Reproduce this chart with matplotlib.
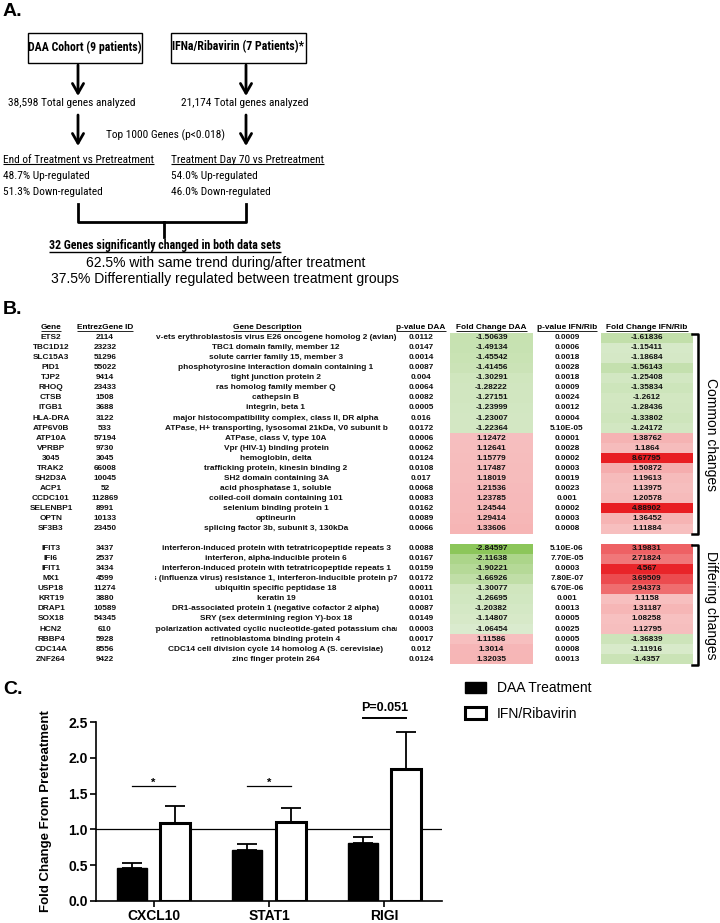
import os
import matplotlib
matplotlib.use("Agg")
import matplotlib.pyplot as plt
from matplotlib import font_manager
from matplotlib.font_manager import FontProperties
from matplotlib.patches import Rectangle
import numpy as np

# ---------------- data: panel B table ----------------
genes = ["ETS2", "TBC1D12", "SLC15A3", "PID1", "TJP2", "RHOQ", "CTSB", "ITGB1", "HLA-DRA", "ATP6V0B",
         "ATP10A", "VPRBP", "3045", "TRAK2", "SH2D3A", "ACP1", "CCDC101", "SELENBP1", "OPTN", "SF3B3",
         "IFIT3", "IFI6", "IFIT1", "MX1", "USP18", "KRT19", "DRAP1", "SOX18", "HCN2", "RBBP4", "CDC14A", "ZNF264"]
entrez_ids = ["2114", "23232", "51296", "55022", "9414", "23433", "1508", "3688", "3122", "533",
              "57194", "9730", "3045", "66008", "10045", "52", "112869", "8991", "10133", "23450",
              "3437", "2537", "3434", "4599", "11274", "3880", "10589", "54345", "610", "5928", "8556", "9422"]
descriptions = [
    "v-ets erythroblastosis virus E26 oncogene homolog 2 (avian)",
    "TBC1 domain family, member 12",
    "solute carrier family 15, member 3",
    "phosphotyrosine interaction domain containing 1",
    "tight junction protein 2",
    "ras homolog family member Q",
    "cathepsin B",
    "integrin, beta 1",
    "major histocompatibility complex, class II, DR alpha",
    "ATPase, H+ transporting, lysosomal 21kDa, V0 subunit b",
    "ATPase, class V, type 10A",
    "Vpr (HIV-1) binding protein",
    "hemoglobin, delta",
    "trafficking protein, kinesin binding 2",
    "SH2 domain containing 3A",
    "acid phosphatase 1, soluble",
    "coiled-coil domain containing 101",
    "selenium binding protein 1",
    "optineurin",
    "splicing factor 3b, subunit 3, 130kDa",
    "interferon-induced protein with tetratricopeptide repeats 3",
    "interferon, alpha-inducible protein 6",
    "interferon-induced protein with tetratricopeptide repeats 1",
    "myxovirus (influenza virus) resistance 1, interferon-inducible protein p78 (mouse)",
    "ubiquitin specific peptidase 18",
    "keratin 19",
    "DR1-associated protein 1 (negative cofactor 2 alpha)",
    "SRY (sex determining region Y)-box 18",
    "hyperpolarization activated cyclic nucleotide-gated potassium channel 2",
    "retinoblastoma binding protein 4",
    "CDC14 cell division cycle 14 homolog A (S. cerevisiae)",
    "zinc finger protein 264",
]
p_daa = ["0.0112", "0.0147", "0.0014", "0.0087", "0.004", "0.0064", "0.0082", "0.0005", "0.016", "0.0172",
         "0.0006", "0.0062", "0.0124", "0.0108", "0.017", "0.0068", "0.0083", "0.0162", "0.0089", "0.0066",
         "0.0088", "0.0167", "0.0159", "0.0172", "0.0011", "0.0101", "0.0087", "0.0149", "0.0003", "0.0017",
         "0.012", "0.0124"]
fc_daa = [-1.50639, -1.49134, -1.45542, -1.41456, -1.30291, -1.28222, -1.27151, -1.23999, -1.23007, -1.22364,
          1.12472, 1.12641, 1.15779, 1.17487, 1.18019, 1.21536, 1.23785, 1.24544, 1.29414, 1.33606,
          -2.84597, -2.11638, -1.90221, -1.66926, -1.30077, -1.26695, -1.20382, -1.14807, -1.06454,
          1.11586, 1.3014, 1.32035]
p_ifn = ["0.0009", "0.0006", "0.0018", "0.0028", "0.0018", "0.0009", "0.0024", "0.0012", "0.0004", "5.10E-05",
         "0.0001", "0.0028", "0.0002", "0.0003", "0.0019", "0.0023", "0.001", "0.0002", "0.0003", "0.0008",
         "5.10E-06", "7.70E-05", "0.0003", "7.80E-07", "6.70E-06", "0.001", "0.0013", "0.0005", "0.0025",
         "0.0005", "0.0008", "0.0013"]
fc_ifn = [-1.61836, -1.15411, -1.18684, -1.56143, -1.25408, -1.35834, -1.2612, -1.28436, -1.33802, -1.24172,
          1.38762, 1.1864, 8.67795, 1.50872, 1.19613, 1.13975, 1.20578, 4.88902, 1.36452, 1.11884,
          3.19831, 2.71824, 4.567, 3.69509, 2.94373, 1.1158, 1.31187, 1.08258, 1.12795,
          -1.36839, -1.11916, -1.4357]
group_sizes = [20, 12]
group_names = ["Common changes", "Differing changes"]
headers = ["Gene", "EntrezGene ID", "Gene Description", "p-value DAA",
           "Fold Change DAA", "p-value IFN/Rib", "Fold Change IFN/Rib"]

# ---------------- data: panel C bar chart ----------------
qpcr_genes = ["CXCL10", "STAT1", "RIGI"]
daa_mean = [0.46, 0.71, 0.805]
daa_err = [0.07, 0.09, 0.095]
ifn_mean = [1.09, 1.11, 1.84]
ifn_err = [0.24, 0.19, 0.52]
series_labels = ["DAA Treatment", "IFN/Ribavirin"]
sig_y = [1.60, 1.60, 2.556]
sig_labels = ["*", "*", "P=0.051"]
yticks = [0.0, 0.5, 1.0, 1.5, 2.0, 2.5]

# ---------------- fonts ----------------
installed = {f.name for f in font_manager.fontManager.ttflist}
SANS = "Liberation Sans" if "Liberation Sans" in installed else "DejaVu Sans"
plt.rcParams["font.family"] = [SANS, "DejaVu Sans"]


def _is_bold(f):
    w = f.weight
    if isinstance(w, str):
        return w in ("bold", "heavy", "black", "demibold", "semibold", "extra bold")
    return w >= 600


def find_condensed(bold):
    prefs = ["liberationsansnarrow", "arialnarrow", "robotocondensed", "notosanscondensed",
             "opensanscondensed", "dejavusanscondensed", "opensans_condensed", "notosans-condensed"]
    cands = []
    for f in font_manager.fontManager.ttflist:
        key = (f.name + os.path.basename(f.fname)).replace(" ", "").lower()
        cond = ("narrow" in key or "condensed" in key or
                str(f.stretch) in ("condensed", "semi-condensed"))
        if not cond:
            continue
        if any(b in key for b in ("mono", "serif", "extra", "ultra", "semicond", "italic", "oblique")):
            continue
        if str(f.style) != "normal":
            continue
        if _is_bold(f) != bold:
            continue
        w = f.weight if not isinstance(f.weight, str) else (700 if bold else 400)
        if bold and w not in (700, "bold"):
            continue
        if not bold and w not in (400, "normal", "regular", "book"):
            continue
        rank = next((i for i, p in enumerate(prefs) if p in key), len(prefs))
        cands.append((rank, f.fname))
    if cands:
        cands.sort()
        return FontProperties(fname=cands[0][1])
    return FontProperties(family=SANS, weight="bold" if bold else "normal")


NARROW_R = find_condensed(False)
NARROW_B = find_condensed(True)

fig = plt.figure(figsize=(7.2, 9.23), dpi=100)
ax = fig.add_axes([0, 0, 1, 1])
ax.set_xlim(0, 720)
ax.set_ylim(923, 0)
ax.axis("off")
R = fig.canvas.get_renderer()


def fit_size(s, fp, target):
    p = fp.copy()
    p.set_size(10)
    t = ax.text(0, 0, s, fontproperties=p)
    w = t.get_window_extent(R).width
    t.remove()
    return 10.0 * target / w


def ntext(x, y, s, fp, size, **kw):
    p = fp.copy()
    p.set_size(size)
    return ax.text(x, y, s, fontproperties=p, va="center", **kw)


def underline(t, lw=0.8, gap=-1.0):
    bb = t.get_window_extent(R)
    inv = ax.transData.inverted()
    (x0, yb), (x1, _) = inv.transform([[bb.x0, bb.y0], [bb.x1, bb.y1]])
    ax.plot([x0, x1], [yb + gap, yb + gap], color="k", lw=lw, solid_capstyle="butt")


# ================= Panel A =================
fs_n = min(fit_size("End of Treatment vs Pretreatment", NARROW_R, 150), 10.5)
fs_nb = min(fit_size("32 Genes significantly changed in both data sets", NARROW_B, 231), 10.5)

ax.text(3, 12, "A.", fontsize=14, weight="bold", va="center", ha="left")
ax.add_patch(Rectangle((28, 33), 114, 30, fill=False, lw=1.0, ec="k"))
ax.add_patch(Rectangle((171, 33), 135, 30, fill=False, lw=1.0, ec="k"))
ntext(85, 47, "DAA Cohort (9 patients)", NARROW_B, fs_nb, ha="center")
ntext(238.5, 47, "IFNa/Ribavirin (7 Patients)*", NARROW_B, fs_nb, ha="center")


def arrow(x, y0, y1):
    ax.annotate("", xy=(x, y1), xytext=(x, y0),
                arrowprops=dict(arrowstyle="->,head_length=0.7,head_width=0.4", lw=2, color="k",
                                shrinkA=0, shrinkB=0))


arrow(78, 65, 96)
arrow(246, 65, 96)
arrow(78, 115, 146)
arrow(246, 115, 146)

ntext(72, 103, "38,598 Total genes analyzed", NARROW_R, fs_n, ha="center")
ntext(245, 103, "21,174 Total genes analyzed", NARROW_R, fs_n, ha="center")
ntext(165, 135, "Top 1000 Genes (p<0.018)", NARROW_R, fs_n, ha="center")

t = ntext(3, 160, "End of Treatment vs Pretreatment", NARROW_R, fs_n, ha="left")
underline(t)
ntext(3, 176, "48.7% Up-regulated", NARROW_R, fs_n, ha="left")
ntext(3, 192, "51.3% Down-regulated", NARROW_R, fs_n, ha="left")
t = ntext(171, 160, "Treatment Day 70 vs Pretreatment", NARROW_R, fs_n, ha="left")
underline(t)
ntext(171, 176, "54.0% Up-regulated", NARROW_R, fs_n, ha="left")
ntext(171, 192, "46.0% Down-regulated", NARROW_R, fs_n, ha="left")

ax.plot([78, 78, 246, 246], [204, 222, 222, 204], color="k", lw=2)
ax.plot([164, 164], [222, 237], color="k", lw=2)
t = ntext(165, 246, "32 Genes significantly changed in both data sets", NARROW_B, fs_nb, ha="center")
underline(t, lw=1.0)
ax.text(226, 263, "62.5% with same trend during/after treatment", fontsize=10, ha="center", va="center")
ax.text(225, 279, "37.5% Differentially regulated between treatment groups", fontsize=10, ha="center", va="center")

# ================= Panel B =================
ax.text(3, 309, "B.", fontsize=14, weight="bold", va="center", ha="left")

TFS = 5.95
header_x = [51, 105, 267, 421, 491.5, 567, 647]
col_x = [51, 105, 276, 421, 491.5, 567, 647]
fc_cols = [(450, 533), (601, 693)]
header_y = 327.5
row0_y = 337.6
row_h = 10.05

for hx, h in zip(header_x, headers):
    t = ax.text(hx, header_y, h, fontsize=TFS, weight="bold", ha="center", va="center")
    underline(t, lw=0.6, gap=-0.3)


def cell_color(v):
    if v < 0:
        tt = min((abs(v) - 1) / 1.85, 1.0)
        lo = np.array([221, 236, 210]); hi = np.array([140, 198, 90])
    else:
        tt = min((v - 1) / 3.7, 1.0)
        lo = np.array([247, 196, 196]); hi = np.array([232, 30, 35])
    return tuple((lo + (hi - lo) * tt) / 255.0)


clip_rect = Rectangle((155, 300), 242, 400, transform=ax.transData)
n_common = group_sizes[0]
row_y = []
for i in range(len(genes)):
    slot = i if i < n_common else i + 1
    y = row0_y + slot * row_h
    row_y.append(y)
    for (c0, c1), v in zip(fc_cols, (fc_daa[i], fc_ifn[i])):
        ax.add_patch(Rectangle((c0, y - row_h / 2), c1 - c0, row_h, fc=cell_color(v), ec="none", zorder=1))
    vals = [genes[i], entrez_ids[i], descriptions[i], p_daa[i], str(fc_daa[i]), p_ifn[i], str(fc_ifn[i])]
    for j, (cx, s) in enumerate(zip(col_x, vals)):
        tt = ax.text(cx, y, s, fontsize=TFS, weight="bold", ha="center", va="center", color="#111111", zorder=3)
        if j == 2:
            tt.set_clip_on(True)
            tt.set_clip_path(clip_rect)

# group brackets
g_start = 0
for gsize, gname in zip(group_sizes, group_names):
    top = row_y[g_start] - row_h / 2 + 1.5
    bot = row_y[g_start + gsize - 1] + row_h / 2 + 0.5
    ax.plot([692, 698, 698, 692], [top, top, bot, bot], color="k", lw=1.8)
    ax.text(711, (top + bot) / 2, gname, fontsize=10, rotation=270, ha="center", va="center")
    g_start += gsize

# ================= Panel C =================
ax.text(3, 689, "C.", fontsize=14, weight="bold", va="center", ha="left")

axc = fig.add_axes([96 / 720, 22 / 923, 346 / 720, 179 / 923])
xc = np.arange(len(qpcr_genes))
bw = 0.26
off = 0.188
b1 = axc.bar(xc - off, daa_mean, bw, color="black", edgecolor="black", lw=1.0, zorder=3)
b2 = axc.bar(xc + off, ifn_mean, bw, color="white", edgecolor="black", lw=2.2, zorder=3)
axc.errorbar(xc - off, daa_mean, yerr=[np.zeros(len(xc)), daa_err], fmt="none", ecolor="black",
             elinewidth=1.3, capsize=7, capthick=1.3, zorder=2)
axc.errorbar(xc + off, ifn_mean, yerr=[np.zeros(len(xc)), ifn_err], fmt="none", ecolor="black",
             elinewidth=1.3, capsize=7, capthick=1.3, zorder=2)
axc.axhline(1.0, color="black", lw=0.9, zorder=1)
axc.set_xlim(-0.5, 2.5)
axc.set_ylim(0, 2.5)
for sp in ["top", "right"]:
    axc.spines[sp].set_visible(False)
for sp in ["left", "bottom"]:
    axc.spines[sp].set_linewidth(1.2)
axc.set_xticks(xc)
axc.set_xticklabels(qpcr_genes, fontweight="bold", fontsize=10)
axc.set_yticks(yticks)
axc.set_yticklabels([f"{v:.1f}" for v in yticks], fontweight="bold", fontsize=10)
axc.tick_params(axis="both", direction="out", width=1.2, length=4.5, pad=1.5)
axc.set_ylabel("Fold Change From Pretreatment", fontsize=9.5, fontweight="bold")
axc.yaxis.set_label_coords(-0.127, 0.5)

for i, (sy, lab) in enumerate(zip(sig_y, sig_labels)):
    big = len(lab) > 1
    axc.plot([i - off, i + off], [sy, sy], color="black", lw=1.4 if big else 0.9, clip_on=False)
    if big:
        axc.text(i, sy + 0.1, lab, fontsize=9, fontweight="bold", ha="center", va="baseline", clip_on=False)
    else:
        axc.text(i, sy + 0.005, lab, fontsize=8, fontweight="bold", ha="center", va="baseline", clip_on=False)

axc.legend([b1, b2], series_labels, loc="upper left", bbox_to_anchor=(465 / 720, 1 - 681 / 923),
           bbox_transform=fig.transFigure, frameon=False, fontsize=10, handlelength=1.5,
           handleheight=0.85, handletextpad=0.8, labelspacing=0.85, borderpad=0, borderaxespad=0)

fig.savefig("out.png", dpi=100)
